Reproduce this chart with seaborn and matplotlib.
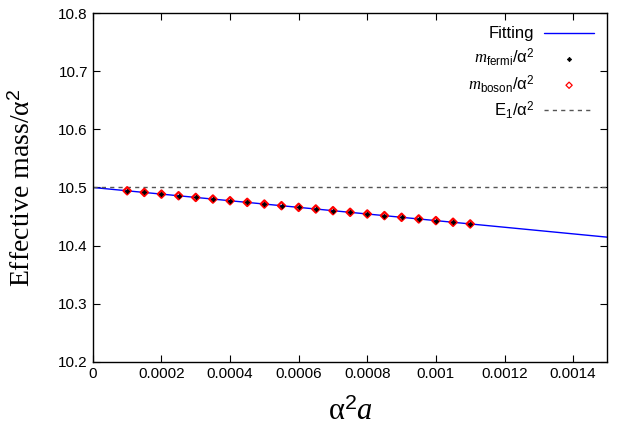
import numpy as np
import pandas as pd
import matplotlib
matplotlib.use("Agg")
import matplotlib.pyplot as plt
import seaborn as sns

# data
a_vals = [0.00010, 0.00015, 0.00020, 0.00025, 0.00030, 0.00035, 0.00040,
          0.00045, 0.00050, 0.00055, 0.00060, 0.00065, 0.00070, 0.00075,
          0.00080, 0.00085, 0.00090, 0.00095, 0.00100, 0.00105, 0.00110]
m_fermi = [10.4943, 10.4915, 10.4886, 10.4858, 10.4829, 10.4801, 10.4772,
           10.4744, 10.4715, 10.4687, 10.4658, 10.4630, 10.4601, 10.4573,
           10.4544, 10.4516, 10.4487, 10.4459, 10.4430, 10.4402, 10.4373]
m_boson = [10.4943, 10.4915, 10.4886, 10.4858, 10.4829, 10.4801, 10.4772,
           10.4744, 10.4715, 10.4687, 10.4658, 10.4630, 10.4601, 10.4573,
           10.4544, 10.4516, 10.4487, 10.4459, 10.4430, 10.4402, 10.4373]
fit_x = [0.0, 0.0015]
fit_y = [10.5, 10.4145]
e1_x = [0.0, 0.0015]
e1_y = [10.5, 10.5]

x_ticks = [0, 0.0002, 0.0004, 0.0006, 0.0008, 0.001, 0.0012, 0.0014]
x_ticklabels = ["0", "0.0002", "0.0004", "0.0006", "0.0008", "0.001", "0.0012", "0.0014"]
y_ticks = [10.2, 10.3, 10.4, 10.5, 10.6, 10.7, 10.8]

sns.set_style("ticks")
plt.rcParams["font.family"] = ["Liberation Sans", "DejaVu Sans"]
plt.rcParams["mathtext.fontset"] = "custom"
plt.rcParams["mathtext.rm"] = "Liberation Sans"
plt.rcParams["mathtext.it"] = "Liberation Serif:italic"
plt.rcParams["text.color"] = "black"
plt.rcParams["axes.labelcolor"] = "black"
plt.rcParams["xtick.color"] = "black"
plt.rcParams["ytick.color"] = "black"

fig = plt.figure(figsize=(6.23, 4.36), dpi=100)
ax = fig.add_axes([0.149, 0.170, 0.826, 0.800])

sns.lineplot(x=fit_x, y=fit_y, color="blue", linewidth=1.0, ax=ax, label="Fitting")
sns.scatterplot(x=a_vals, y=m_boson, marker="D", s=14, facecolor="none",
                edgecolor="red", linewidth=1.6, ax=ax,
                label=r"$m_{\mathrm{boson}}$/α$^2$", zorder=3)
sns.scatterplot(x=a_vals, y=m_fermi, marker="D", s=5, color="black",
                edgecolor="black", linewidth=0.5, ax=ax,
                label=r"$m_{\mathrm{fermi}}$/α$^2$", zorder=4)
sns.lineplot(x=e1_x, y=e1_y, color="#555555", linewidth=1.0, linestyle=(0, (3, 3)),
             ax=ax, label="E$_1$/α$^2$")

ax.set_xlim(0, 0.0015)
ax.set_ylim(10.2, 10.8)
ax.set_xticks(x_ticks)
ax.set_xticklabels(x_ticklabels)
ax.set_yticks(y_ticks)
ax.set_yticklabels([f"{v:.1f}" for v in y_ticks])
ax.tick_params(direction="in", top=True, right=True, labelsize=11, length=5, width=0.8)
for sp in ax.spines.values():
    sp.set_linewidth(1.0)
    sp.set_color("black")
    sp.set_visible(True)

ax.set_xlabel(r"α$^2$$\it{a}$", family="Liberation Serif", fontsize=22, labelpad=12)
ax.set_ylabel("Effective mass/α$^2$", family="Liberation Serif", fontsize=20, labelpad=16)

handles, labels = ax.get_legend_handles_labels()
order = [0, 2, 1, 3]
leg = ax.legend([handles[i] for i in order], [labels[i] for i in order],
                loc="upper right", frameon=False, markerfirst=False, fontsize=12,
                handlelength=3.0, handletextpad=0.6, labelspacing=0.3,
                borderaxespad=0.4)
leg.legend_handles[2].set_sizes([10])
leg.legend_handles[2].set_linewidths([0.9])

fig.savefig("out.png", dpi=100)
